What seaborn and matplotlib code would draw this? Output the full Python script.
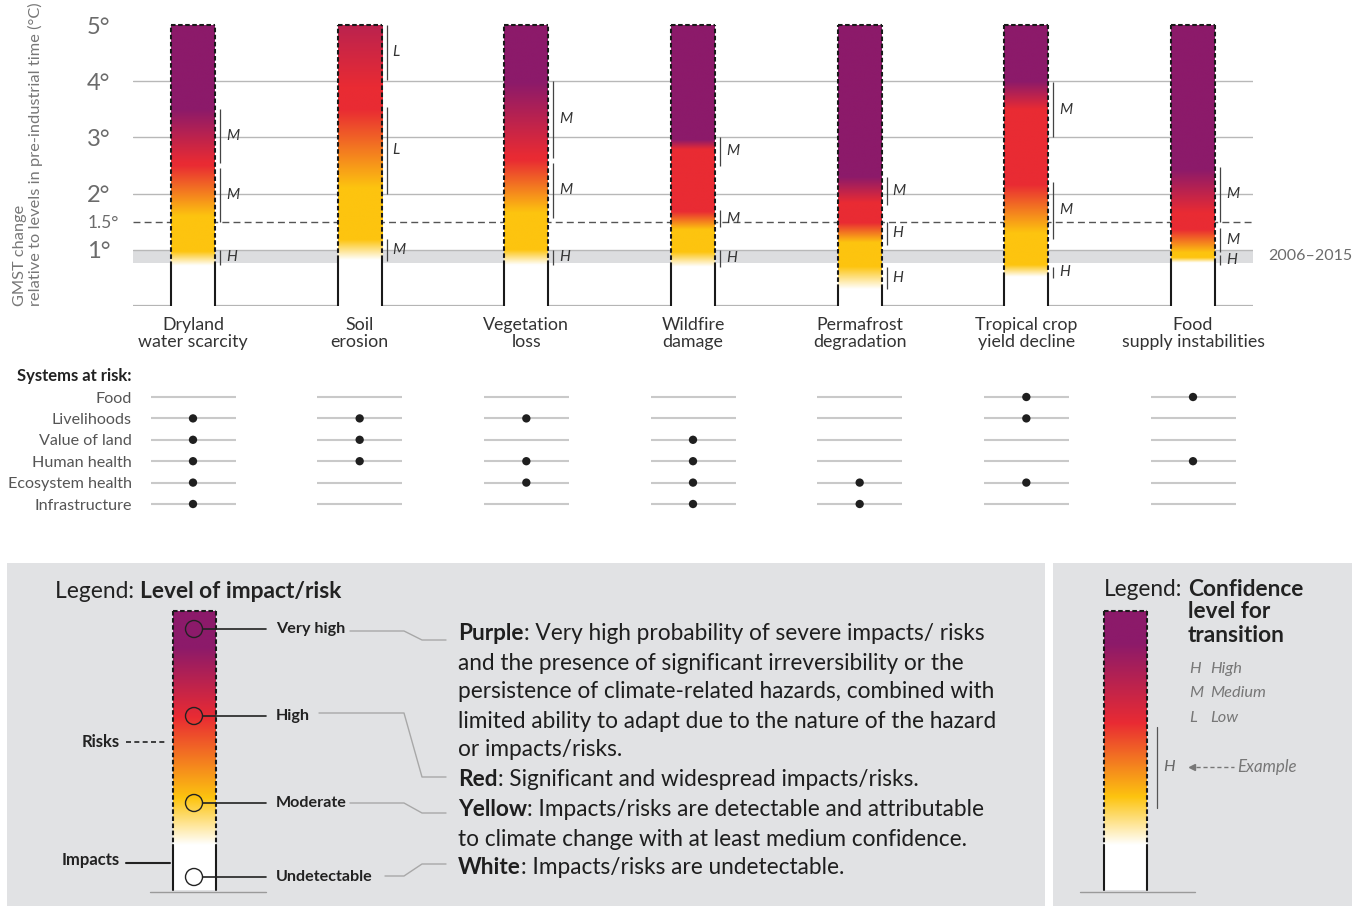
import numpy as np
import pandas as pd
import matplotlib.pyplot as plt
from matplotlib.patches import Rectangle, Circle
import seaborn as sns

# impacts shown as columns
categories = ["Dryland\nwater scarcity", "Soil\nerosion", "Vegetation\nloss", "Wildfire\ndamage",
              "Permafrost\ndegradation", "Tropical crop\nyield decline", "Food\nsupply instabilities"]

# colour transitions (start, end) in degC above pre-industrial
white_to_yellow = [(0.72, 0.97), (0.82, 1.18), (0.73, 1.00), (0.70, 0.96), (0.30, 0.70), (0.52, 0.73), (0.77, 0.86)]
yellow_to_red = [(1.60, 2.50), (2.10, 3.50), (1.66, 2.60), (1.36, 1.68), (1.13, 1.48), (1.30, 2.16), (0.95, 1.36)]
red_to_purple = [(2.55, 3.50), (3.90, 6.10), (2.66, 3.98), (2.79, 2.96), (1.84, 2.30), (3.50, 4.00), (1.66, 2.43)]

# confidence brackets (low, high, level)
confidence = [
    [(0.73, 1.00, "H"), (1.50, 2.45, "M"), (2.55, 3.50, "M")],
    [(0.80, 1.20, "M"), (2.00, 3.55, "L"), (4.03, 5.00, "L")],
    [(0.73, 1.00, "H"), (1.57, 2.55, "M"), (2.64, 4.00, "M")],
    [(0.70, 1.00, "H"), (1.40, 1.70, "M"), (2.50, 3.00, "M")],
    [(0.30, 0.70, "H"), (1.09, 1.50, "H"), (1.80, 2.30, "M")],
    [(0.50, 0.70, "H"), (1.20, 2.20, "M"), (3.00, 3.98, "M")],
    [(0.73, 0.91, "H"), (0.96, 1.39, "M"), (1.50, 2.48, "M")],
]

systems = ["Food", "Livelihoods", "Value of land", "Human health", "Ecosystem health", "Infrastructure"]
systems_at_risk = [
    [0, 1, 1, 1, 1, 1],
    [0, 1, 1, 1, 0, 0],
    [0, 1, 0, 1, 1, 0],
    [0, 0, 1, 1, 1, 1],
    [0, 0, 0, 0, 1, 1],
    [1, 1, 0, 0, 1, 0],
    [1, 0, 0, 1, 0, 0],
]

band_2006_2015 = (0.77, 1.0)
temp_ticks = [1, 1.5, 2, 3, 4, 5]
temp_labels = ["1°", "1.5°", "2°", "3°", "4°", "5°"]

W, H = 1365, 906
ramp_colors = np.array([[255, 255, 255], [253, 196, 15], [233, 43, 51], [140, 26, 106]]) / 255


def ramp(t, wy, yr, rp):
    pos = np.interp(t, [wy[0], wy[1], yr[0], yr[1], rp[0], rp[1]], [0, 1, 1, 2, 2, 3])
    return np.stack([np.interp(pos, [0, 1, 2, 3], ramp_colors[:, k]) for k in range(3)], axis=-1)


def rich(ax, x, y, parts, size, color="#222222"):
    t = ax.text(x, y, parts[0][0], fontsize=size, fontweight=parts[0][1], va="center", color=color)
    for txt, w in parts[1:]:
        t = ax.annotate(txt, xy=(1, 0), xycoords=t, va="bottom", ha="left",
                        fontsize=size, fontweight=w, color=color)
    return t


sns.set_theme(style="white")
plt.rcParams["font.family"] = ["Lato", "DejaVu Sans"]

fig = plt.figure(figsize=(W / 100, H / 100), dpi=100)

# ---------- legend layer (pixel coordinates) ----------
lg = fig.add_axes([0, 0, 1, 1], zorder=0)
lg.set_xlim(0, W)
lg.set_ylim(H, 0)
lg.axis("off")

# ---------- top panel ----------
ax = fig.add_axes([133 / W, (H - 306) / H, 1120 / W, 286.6 / H], zorder=2)
ax.set_facecolor("none")
hw = 0.132
temps = np.linspace(0, 5, 601)

ax.axhspan(*band_2006_2015, color="#dcdddf", lw=0, zorder=0)
for v in [1, 2, 3, 4]:
    ax.axhline(v, color="#b8b8b8", lw=1, zorder=1)
ax.axhline(1.5, color="#555555", lw=1, ls=(0, (5, 3)), zorder=1)
ax.axhline(0, color="#b5b5b5", lw=1.6, zorder=1)

for i, name in enumerate(categories):
    wy, yr, rp = white_to_yellow[i], yellow_to_red[i], red_to_purple[i]
    img = ramp(temps, wy, yr, rp)[:, None, :]
    ax.imshow(img, extent=(i - hw, i + hw, 0, 5), origin="lower", aspect="auto",
              interpolation="bilinear", zorder=3)
    for side in (i - hw, i + hw):
        ax.plot([side, side], [wy[0], 5], color="#1a1a1a", lw=1.5, ls=(0, (2.2, 1.2)), zorder=4)
        ax.plot([side, side], [0, wy[0]], color="#1a1a1a", lw=1.5, zorder=4)
    ax.plot([i - hw, i + hw], [5, 5], color="#1a1a1a", lw=1.5, ls=(0, (2.2, 1.2)), zorder=4)
    for lo, hi, lvl in confidence[i]:
        ax.vlines(i + 0.162, lo, hi, color="#444444", lw=0.9, zorder=4)
        ax.text(i + 0.198, (lo + hi) / 2, lvl, fontsize=11, fontstyle="italic",
                color="#333333", ha="left", va="center", zorder=5)

ax.set_xlim(-0.36, 6.36)
ax.set_ylim(0, 5.1)
ax.set_xticks(range(len(categories)), categories)
ax.set_yticks(temp_ticks, temp_labels)
ax.tick_params(axis="x", length=0, pad=8, labelsize=12.8, labelcolor="#333333")
ax.tick_params(axis="y", length=0, pad=33, labelsize=17, labelcolor="#6b6b6b")
for lbl in ax.get_yticklabels():
    lbl.set_ha("left")
    if lbl.get_text() == "1.5°":
        lbl.set_fontsize(12.5)
for lbl in ax.get_xticklabels():
    lbl.set_linespacing(1.05)
for s in ax.spines.values():
    s.set_visible(False)
ax.grid(False)

ax.text(1.0134, 0.885, "2006–2015", transform=ax.get_yaxis_transform(), fontsize=11.5,
        color="#6b6b6b", ha="left", va="center")
fig.text(28 / W, (H - 306) / H, "GMST change\nrelative to levels in pre-industrial time (°C)",
         rotation=90, ha="center", va="bottom", multialignment="left", fontsize=11.8,
         color="#777777", linespacing=1.0)

# ---------- systems at risk ----------
sx = fig.add_axes([133 / W, (H - 514.7) / H, 1120 / W, 128.4 / H], zorder=2)
sx.set_facecolor("none")
for i in range(len(categories)):
    sx.hlines(range(len(systems)), i - 0.255, i + 0.255, color="#c9c9c9", lw=1.5, zorder=1)
df = pd.DataFrame([(i, j) for i, row in enumerate(systems_at_risk) for j, v in enumerate(row) if v],
                  columns=["impact", "system"])
sns.scatterplot(data=df, x="impact", y="system", ax=sx, color="#1f1f1f", s=36,
                edgecolor="none", zorder=3, legend=False)
sx.set_xlim(-0.36, 6.36)
sx.set_ylim(5.5, -0.5)
sx.set_yticks(range(len(systems)), systems)
sx.set_xticks([])
sx.set_xlabel("")
sx.set_ylabel("")
sx.tick_params(axis="y", length=0, pad=1, labelsize=11.6, labelcolor="#555555")
for s in sx.spines.values():
    s.set_visible(False)
fig.text(17 / W, 1 - 376 / H, "Systems at risk:", fontsize=12, fontweight="bold",
         color="#222222", va="center")

# ---------- legend panels ----------
lg.add_patch(Rectangle((7, 563), 1038, 343, fc="#e1e2e4", ec="none"))
lg.add_patch(Rectangle((1053, 563), 299, 343, fc="#e1e2e4", ec="none"))


def legend_bar(x0, x1, stops):
    hgt = np.linspace(279, 0, 400)
    img = ramp(hgt, *stops)[:, None, :]
    lg.imshow(img, extent=(x0, x1, 890, 611), origin="upper", aspect="auto",
              interpolation="bilinear", zorder=2)
    for side in (x0, x1):
        lg.plot([side, side], [611, 845], color="#1a1a1a", lw=1.5, ls=(0, (2.2, 1.2)), zorder=3)
        lg.plot([side, side], [845, 890], color="#1a1a1a", lw=1.5, zorder=3)
    lg.plot([x0, x1], [611, 611], color="#1a1a1a", lw=1.5, ls=(0, (2.2, 1.2)), zorder=3)


lg.set_xlim(0, W)
lg.set_ylim(H, 0)

rich(lg, 55, 591, [("Legend: ", "normal"), ("Level of impact/risk", "bold")], 16.4)
legend_bar(173, 216, [(45, 92), (92, 173), (173, 243)])
lg.plot([150, 266], [892, 892], color="#9a9a9a", lw=1, zorder=2)

levels = [("Very high", 629, [(350, 631), (404, 631), (422, 640), (446, 640)]),
          ("High", 716, [(319, 713), (404, 713), (422, 777), (446, 777)]),
          ("Moderate", 803, [(350, 803), (404, 803), (422, 813), (446, 813)]),
          ("Undetectable", 877, [(385, 876), (404, 876), (422, 864), (446, 864)])]
for name, yy, leader in levels:
    lg.add_patch(Circle((194, yy), 8.5, fill=(name == "Undetectable"), fc="white",
                        ec="#222222", lw=1, zorder=4))
    lg.plot([203, 266], [yy, yy], color="#222222", lw=1.2, zorder=3)
    lg.text(276, yy, name, fontsize=11.6, fontweight="bold", color="#222222", va="center")
    lx, ly = zip(*leader)
    lg.plot(lx, ly, color="#a8a8a8", lw=1, zorder=3)

lg.text(120, 742, "Risks", fontsize=12, fontweight="bold", color="#222222", ha="right", va="center")
lg.plot([126, 166], [742, 742], color="#222222", lw=1.2, ls=(0, (3, 2)))
lg.text(120, 860, "Impacts", fontsize=12, fontweight="bold", color="#222222", ha="right", va="center")
lg.plot([126, 170], [863, 863], color="#222222", lw=1.5)

desc_lines = [
    [("Purple", "bold"), (": Very high probability of severe impacts/ risks", "normal")],
    [("and the presence of significant irreversibility or the", "normal")],
    [("persistence of climate-related hazards, combined with", "normal")],
    [("limited ability to adapt due to the nature of the hazard", "normal")],
    [("or impacts/risks.", "normal")],
    [("Red", "bold"), (": Significant and widespread impacts/risks.", "normal")],
    [("Yellow", "bold"), (": Impacts/risks are detectable and attributable", "normal")],
    [("to climate change with at least medium confidence.", "normal")],
    [("White", "bold"), (": Impacts/risks are undetectable.", "normal")],
]
desc_y = [634, 663, 692, 721, 750, 780, 810, 839, 868]
for parts, yy in zip(desc_lines, desc_y):
    rich(lg, 458, yy, parts, 16.3, color="#1e1e1e")

# confidence legend
lg.text(1104, 589, "Legend:", fontsize=16.3, color="#222222", va="center")
for txt, yy in [("Confidence", 589), ("level for", 612), ("transition", 636)]:
    lg.text(1188, yy, txt, fontsize=16.3, fontweight="bold", color="#222222", va="center")
legend_bar(1104, 1147, [(45, 93), (93, 167), (167, 247)])
lg.plot([1080, 1195], [892, 892], color="#9a9a9a", lw=1, zorder=2)
for code, word, yy in [("H", "High", 669), ("M", "Medium", 693), ("L", "Low", 718)]:
    lg.text(1189, yy, code, fontsize=11.8, fontstyle="italic", color="#777777", va="center")
    lg.text(1210, yy, word, fontsize=11.8, fontstyle="italic", color="#777777", va="center")
lg.plot([1157, 1157], [727, 808], color="#555555", lw=0.9)
lg.text(1163, 767, "H", fontsize=11.8, fontstyle="italic", color="#666666", va="center")
lg.plot([1196, 1234], [767, 767], color="#777777", lw=1, ls=(0, (3, 2)))
lg.plot([1192], [767], marker="<", color="#777777", ms=4)
lg.text(1237, 767, "Example", fontsize=12.2, fontstyle="italic", color="#777777", va="center")

fig.savefig("out.png", dpi=100)
